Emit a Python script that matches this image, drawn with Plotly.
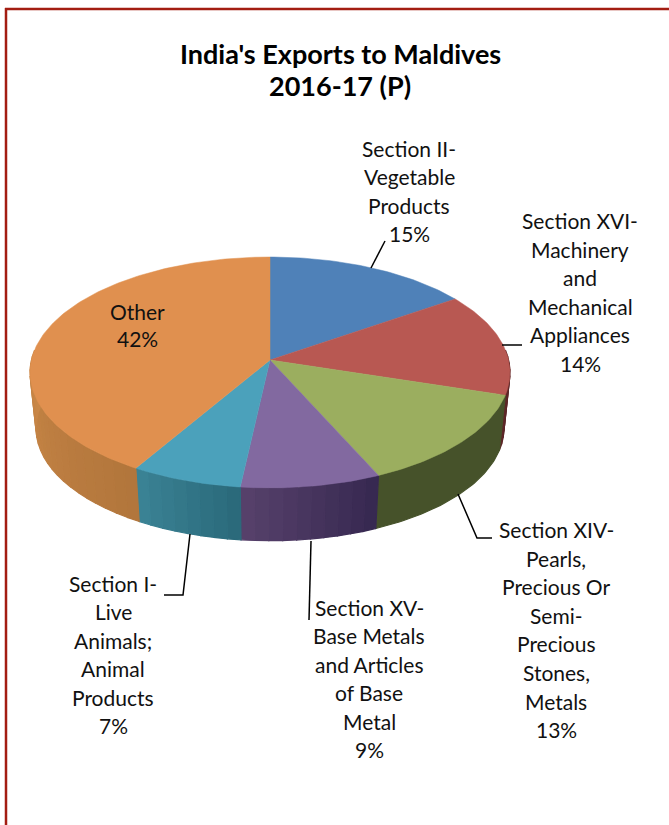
import math
import plotly.graph_objects as go

# ---- data ----
categories = ["Section II-\nVegetable\nProducts",
              "Section XVI-\nMachinery\nand\nMechanical\nAppliances",
              "Section XIV-\nPearls,\nPrecious Or\nSemi-\nPrecious\nStones,\nMetals",
              "Section XV-\nBase Metals\nand Articles\nof Base\nMetal",
              "Section I-\nLive\nAnimals;\nAnimal\nProducts",
              "Other"]
shares = [15.4, 14.45, 13.45, 8.5, 6.75, 41.5]
share_labels = ["15%", "14%", "13%", "9%", "7%", "42%"]
top_colors = ["#4f81b8", "#b85852", "#9bae5f", "#8269a0", "#4ba1bb", "#e0904f"]
side_from = [(60, 95, 140), (80, 30, 32), (70, 82, 42), (54, 40, 80), (42, 105, 122), (178, 118, 60)]
side_to = [(60, 95, 140), (95, 40, 40), (70, 82, 42), (88, 66, 108), (60, 132, 150), (202, 136, 72)]
title_lines = ["India's Exports to Maldives", "2016-17 (P)"]

# ---- layout constants (pixels of the 669x825 canvas) ----
W, H = 669, 825
CX, CY = 270, 360
A, B, K = 238.6, 114.1, 0.108
DEPTH, BOTTOM_SCALE = 56, 0.975
LABEL_POS = [(409, 148.5), (580, 220.5), (556, 529.5), (369, 607.5), (113, 583.5), (137, 311.5)]
LINE_STEP = [28.4, 28.6, 28.6, 28.4, 28.4, 27]
LEADERS = [[(371, 268), (385, 241)],
           [(502, 345), (522, 345)],
           [(458, 494), (477, 538), (492, 538)],
           [(311, 541), (309, 620)],
           [(190, 534), (183, 595), (164, 595)]]


def project(theta, bottom=False):
    u, v = math.sin(theta), math.cos(theta)
    w = 1 + K * v
    s = BOTTOM_SCALE if bottom else 1.0
    return CX + s * A * u / w, CY - s * B * v / w + (DEPTH if bottom else 0)


def arc(t0, t1, bottom=False, step=math.radians(1)):
    n = max(2, int(abs(t1 - t0) / step) + 1)
    return [project(t0 + (t1 - t0) * i / (n - 1), bottom) for i in range(n)]


fig = go.Figure()
edges = [0]
for s in shares:
    edges.append(edges[-1] + s / sum(shares) * 2 * math.pi)

# side wall: narrow strips, front half only
BAND = math.radians(3.2)
for i in range(len(shares)):
    t0, t1 = max(edges[i], math.radians(85)), min(edges[i + 1], math.radians(275))
    if t1 <= t0:
        continue
    n = 1 if side_from[i] == side_to[i] else max(1, round((t1 - t0) / BAND))
    for j in range(n):
        a0 = t0 + (t1 - t0) * j / n
        a1 = t0 + (t1 - t0) * (j + 1) / n
        f = (j + 0.5) / n
        c = [side_from[i][k] + (side_to[i][k] - side_from[i][k]) * f for k in range(3)]
        color = "rgb(%d,%d,%d)" % tuple(c)
        pts = arc(a0, a1) + arc(a1, a0, True)
        pts.append(pts[0])
        fig.add_trace(go.Scatter(x=[p[0] for p in pts], y=[p[1] for p in pts], mode="lines",
                                 fill="toself", fillcolor=color,
                                 line=dict(color=color, width=1.2),
                                 hoverinfo="skip", showlegend=False))

# top faces
for i in range(len(shares)):
    pts = [(CX, CY)] + arc(edges[i], edges[i + 1]) + [(CX, CY)]
    fig.add_trace(go.Scatter(x=[p[0] for p in pts], y=[p[1] for p in pts], mode="lines",
                             fill="toself", fillcolor=top_colors[i],
                             line=dict(color=top_colors[i], width=0.5),
                             name=categories[i].replace("\n", " "), hoverinfo="name",
                             showlegend=False))

# leader lines
for seg in LEADERS:
    fig.add_trace(go.Scatter(x=[p[0] for p in seg], y=[p[1] for p in seg], mode="lines",
                             line=dict(color="black", width=1.5),
                             hoverinfo="skip", showlegend=False))

# labels
for cat, pct, (lx, ly), step in zip(categories, share_labels, LABEL_POS, LINE_STEP):
    for n, line in enumerate(cat.split("\n") + [pct]):
        fig.add_annotation(x=lx, y=ly + n * step, text=line, showarrow=False,
                           xanchor="center", yanchor="middle",
                           font=dict(family="Lato", size=21, color="#111111"))

# title
for n, line in enumerate(title_lines):
    fig.add_annotation(x=340, y=53 + n * 32, text="<b>%s</b>" % line, showarrow=False,
                       xanchor="center", yanchor="middle",
                       font=dict(family="Lato", size=27, color="black"))

# red frame (open on the right and bottom, as cropped)
fig.add_shape(type="line", x0=6, x1=6, y0=8, y1=H, line=dict(color="#a31d12", width=2.5))
fig.add_shape(type="line", x0=5, x1=W, y0=9, y1=9, line=dict(color="#a31d12", width=2.5))

fig.update_xaxes(range=[0, W], visible=False, fixedrange=True)
fig.update_yaxes(range=[H, 0], visible=False, fixedrange=True)
fig.update_layout(width=W, height=H, autosize=False, margin=dict(l=0, r=0, t=0, b=0),
                  paper_bgcolor="white", plot_bgcolor="white", showlegend=False)
fig.write_html("out.html", config={"displayModeBar": False, "responsive": False},
               post_script="document.body.style.margin='0';document.body.style.overflow='hidden';")
